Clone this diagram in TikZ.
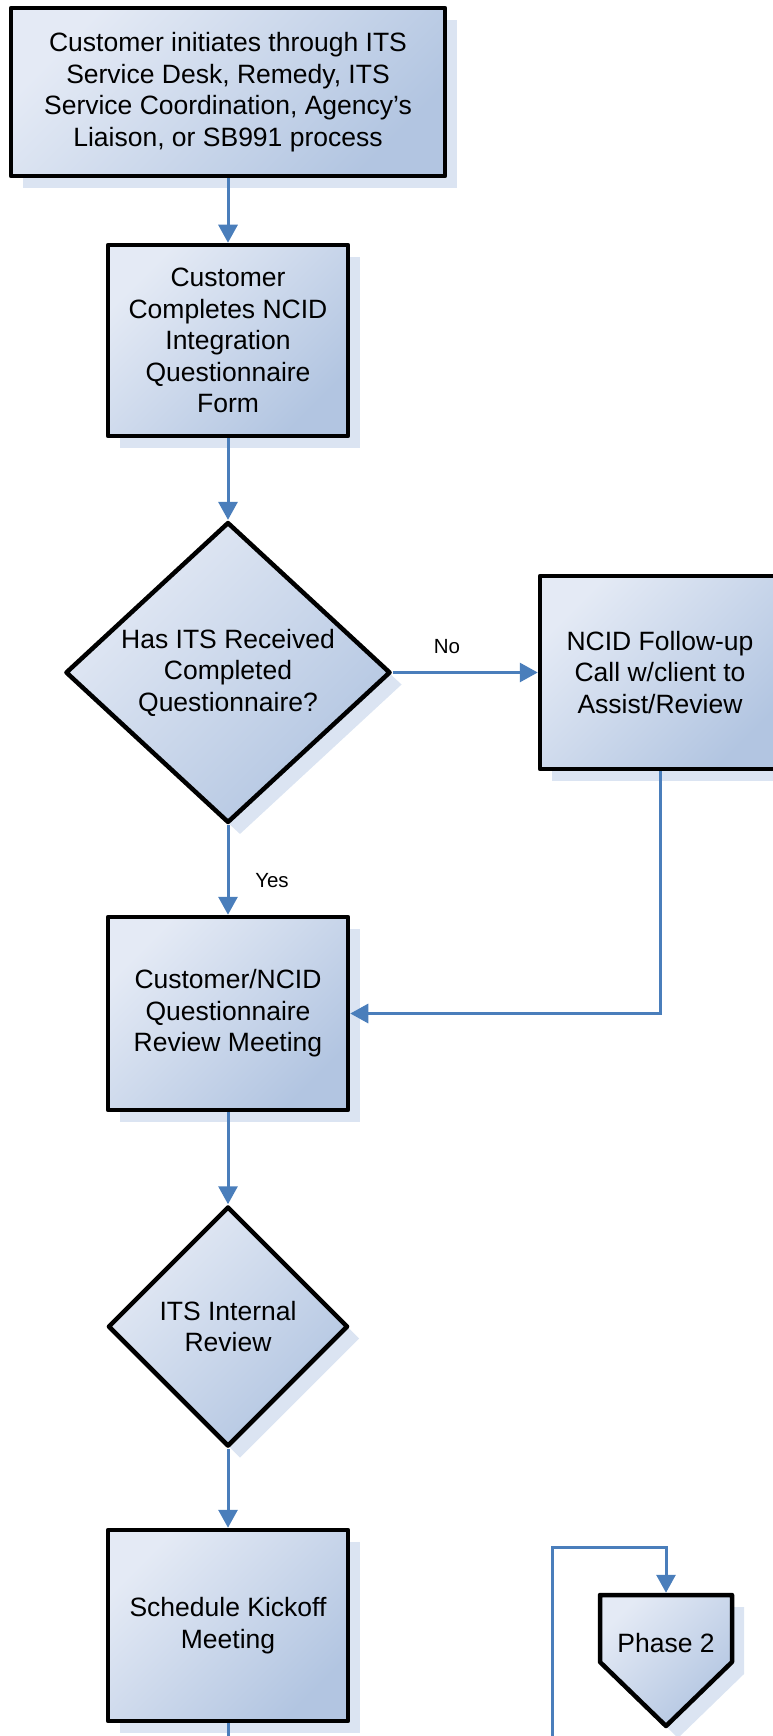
\documentclass[tikz,border=0pt]{standalone}
\usepackage{fontspec}
\setmainfont{Liberation Sans}
\usetikzlibrary{arrows.meta}
\usetikzlibrary{calc}
\usetikzlibrary{positioning}
\usetikzlibrary{shapes.geometric}
\usetikzlibrary{shadows}

\definecolor{linkblue}{RGB}{74,126,187}
\definecolor{fillhi}{RGB}{228,234,245}
\definecolor{filllo}{RGB}{178,197,225}
\definecolor{shadowblue}{RGB}{219,228,242}

\begin{document}
\begin{tikzpicture}[x=1pt,y=-1pt,
		flow/.style={draw=black,line width=4.5pt,line join=round,top color=fillhi,bottom color=filllo,shading angle=45,
			drop shadow={shadow xshift=12pt,shadow yshift=-12pt,fill=shadowblue,opacity=1},
			align=center,inner sep=0pt,font=\fontsize{26.5}{31.5}\selectfont},
		procbox/.style={flow,rectangle,minimum width=240pt,minimum height=191pt},
		decide/.style={flow,diamond},
		conn/.style={draw=linkblue,line width=3pt},
		lbl/.style={font=\fontsize{20.5}{24}\selectfont},
		>={Triangle[length=18pt,width=19pt]}]
		\path[use as bounding box,clip] (0,0) rectangle (773,1736);
		\node[procbox,minimum width=434pt,minimum height=168pt] (start) at (228,92) {Customer initiates through ITS\\Service Desk, Remedy, ITS\\Service Coordination, Agency’s\\Liaison, or SB991 process};
		\node[procbox] (form) at (228,340.5) {Customer\\Completes NCID\\Integration\\Questionnaire\\Form};
		\node[decide,minimum width=325pt,minimum height=300pt] (check) at (228,672.5) {Has ITS Received\\Completed\\Questionnaire?};
		\node[procbox,minimum height=193pt] (followup) at (660,672.5) {NCID Follow-up\\Call w/client to\\Assist/Review};
		\node[procbox,minimum height=193pt] (review) at (228,1013.5) {Customer/NCID\\Questionnaire\\Review Meeting};
		\node[decide,minimum width=240pt,minimum height=240pt] (internal) at (228,1326.5) {ITS Internal\\Review};
		\node[procbox] (kickoff) at (228,1625.5) {Schedule Kickoff\\Meeting};
		\path[flow] (600,1595) -- (732,1595) -- (732,1662) -- (666,1726) -- (600,1662) -- cycle;
		\node[font=\fontsize{26.5}{31.5}\selectfont,inner sep=0pt,outer sep=0pt,minimum width=132pt,minimum height=100.5pt] (phase) at (666,1643) {Phase 2};
		\node[lbl] (no) at (447,647) {No};
		\node[lbl] (yes) at (272,881) {Yes};
		\coordinate (offpage) at (228,1750);
		\coordinate (loopstart) at (552,1750);
		\draw[conn,->] (start) -- (form);
		\draw[conn,->] (form) -- (check);
		\draw[conn,->] (check) -- (followup);
		\draw[conn,->] (check) -- (review);
		\draw[conn,->] (followup) |- (review);
		\draw[conn,->] (review) -- (internal);
		\draw[conn,->] (internal) -- (kickoff);
		\draw[conn] (kickoff) -- (offpage);
		\draw[conn,->] (loopstart) |- ([yshift=45pt]phase.north) -- (phase.north);
	\end{tikzpicture}
\end{document}
